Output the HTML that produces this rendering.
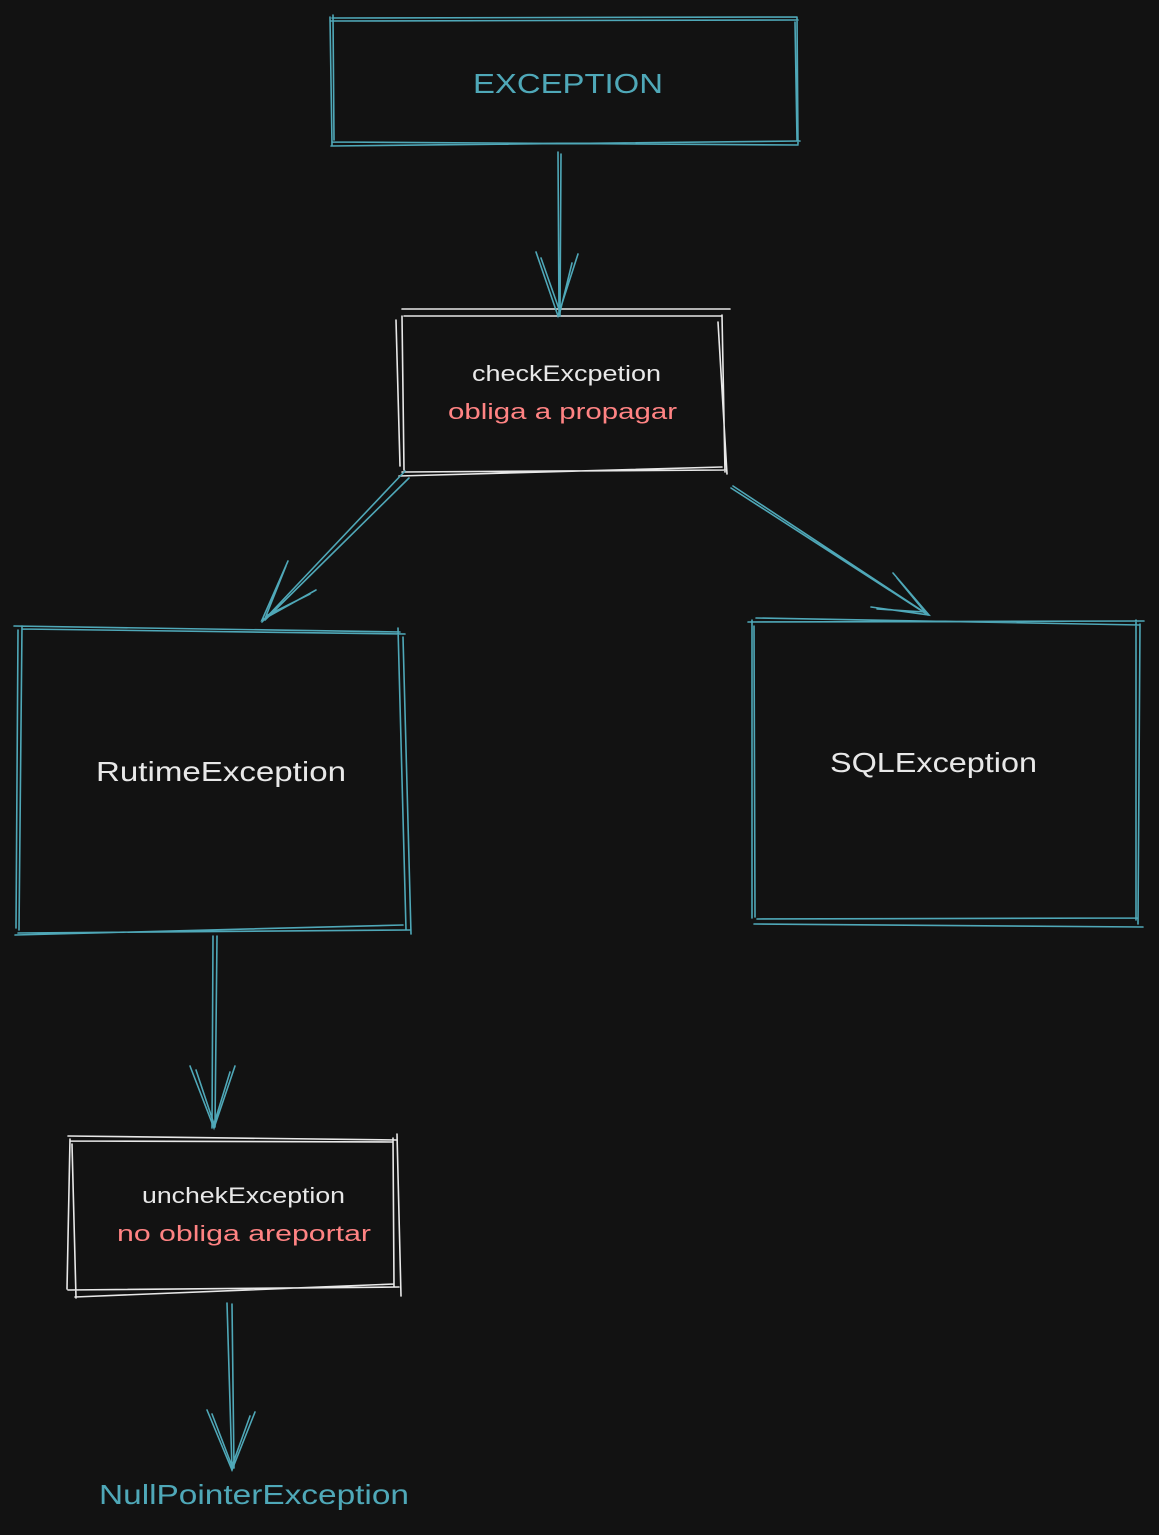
<!DOCTYPE html>
<html><head><meta charset="utf-8"><style>
html,body{margin:0;padding:0;background:#121212;}
svg{display:block;}
text{font-family:"Liberation Sans",sans-serif;}
</style></head><body>
<svg width="1159" height="1535" viewBox="0 0 1159 1535" xmlns="http://www.w3.org/2000/svg">
<rect width="1159" height="1535" fill="#121212"/>
<g fill="none" stroke-linecap="round" stroke-width="1.6">
<g stroke="#4fa8b8">
<path d="M332 18 L797 17 M330 21 L798 20 M797 17 L798 144 M795 22 L797 140 M798 145 L332 142 M800 141 L331 146 M330 17 L332 145 M333 15 L334 140"/>
</g>
<g stroke="#e8e8e8">
<path d="M402 309 L730 309 M404 316 L722 316 M722 315 L725 472 M718 322 L727 474 M726 470 L402 472 M722 467 L399 476 M402 316 L404 470 M396 320 L400 466"/>
</g>
<g stroke="#4fa8b8">
<path d="M14 626 L400 632 M22 629 L405 634 M398 628 L406 930 M403 637 L411 934 M410 930 L18 933 M403 925 L15 935 M22 626 L19 930 M18 630 L16 928"/>
</g>
<g stroke="#4fa8b8">
<path d="M748 622 L1144 621 M756 618 L1140 625 M1136 620 L1136 920 M1140 624 L1138 924 M1143 927 L754 924 M1138 918 L757 919 M752 620 L752 918 M754 626 L755 917"/>
</g>
<g stroke="#e8e8e8">
<path d="M68 1136 L397 1140 M70 1141 L392 1142 M393 1138 L394 1287 M397 1134 L401 1296 M399 1287 L68 1290 M394 1284 L75 1297 M70 1139 L67 1289 M72 1144 L76 1298"/>
</g>
<g stroke="#4fa8b8">
<path d="M558 152 L559 315 M561 154 L560 316"/>
<path d="M536 252 L558 316 L578 254 M541 258 L560 312 L572 263"/>
<path d="M405 471 L262 622 M409 478 L265 620"/>
<path d="M288 561 L262 620 L316 590 M286 566 L266 616 L310 594"/>
<path d="M731 488 L928 615 M733 486 L924 612"/>
<path d="M893 573 L929 615 L871 607 M897 578 L925 612 L877 609"/>
<path d="M213 936 L212 1128 M217 936 L215 1127"/>
<path d="M190 1066 L214 1128 L235 1066 M196 1070 L214 1124 L230 1072"/>
<path d="M227 1303 L232 1470 M232 1304 L234 1468"/>
<path d="M207 1410 L232 1470 L255 1412 M212 1414 L232 1466 L250 1416"/>
</g>
</g>
<g>
<text x="473" y="93" font-size="28" fill="#4fa8b8" textLength="190" lengthAdjust="spacingAndGlyphs">EXCEPTION</text>
<text x="472" y="381" font-size="22" fill="#e8e8e8" textLength="189" lengthAdjust="spacingAndGlyphs">checkExcpetion</text>
<text x="448" y="419" font-size="22" fill="#ff8383" textLength="229" lengthAdjust="spacingAndGlyphs">obliga a propagar</text>
<text x="96" y="781" font-size="28" fill="#e8e8e8" textLength="250" lengthAdjust="spacingAndGlyphs">RutimeException</text>
<text x="830" y="772" font-size="28" fill="#e8e8e8" textLength="207" lengthAdjust="spacingAndGlyphs">SQLException</text>
<text x="142" y="1203" font-size="22" fill="#e8e8e8" textLength="203" lengthAdjust="spacingAndGlyphs">unchekException</text>
<text x="117" y="1241" font-size="22" fill="#ff8383" textLength="254" lengthAdjust="spacingAndGlyphs">no obliga areportar</text>
<text x="99" y="1504" font-size="28" fill="#4fa8b8" textLength="310" lengthAdjust="spacingAndGlyphs">NullPointerException</text>
</g>
</svg>
</body></html>
